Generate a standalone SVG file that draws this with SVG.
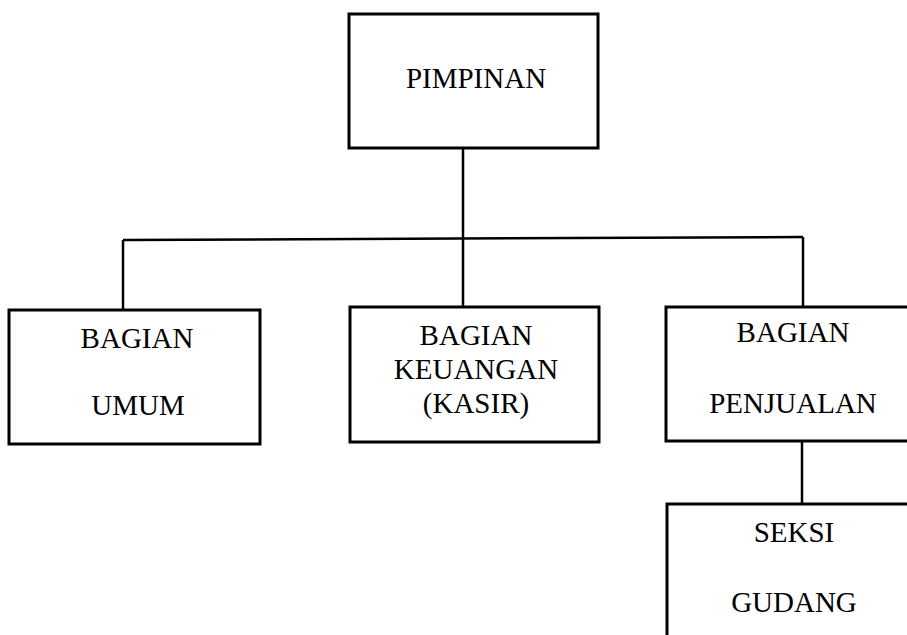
<svg xmlns="http://www.w3.org/2000/svg" width="907" height="635" viewBox="0 0 907 635">
<style>
.box{fill:#fff;stroke:#000;stroke-width:3}
.ln{stroke:#000;stroke-width:2.5;fill:none}
text{font-family:"Liberation Serif","Times New Roman",serif;font-size:29px;fill:#000;text-anchor:middle}
</style>
<rect width="907" height="635" fill="#fff"/>
<g id="connectors">
<line class="ln" x1="463" y1="147" x2="463" y2="307"/>
<line class="ln" x1="123" y1="240" x2="803" y2="237"/>
<line class="ln" x1="123" y1="240" x2="123" y2="310"/>
<line class="ln" x1="803" y1="237" x2="803" y2="307"/>
<line class="ln" x1="802" y1="441" x2="802" y2="504"/>
</g>
<g id="pimpinan">
<rect class="box" x="349" y="14" width="249" height="134"/>
<text x="476" y="88">PIMPINAN</text>
</g>
<g id="umum">
<rect class="box" x="9" y="310" width="251" height="134"/>
<text x="137" y="348">BAGIAN</text>
<text x="138" y="415">UMUM</text>
</g>
<g id="keuangan">
<rect class="box" x="350" y="307" width="249" height="135"/>
<text x="476" y="345">BAGIAN</text>
<text x="476" y="379">KEUANGAN</text>
<text x="476" y="413">(KASIR)</text>
</g>
<g id="penjualan">
<rect class="box" x="666" y="307" width="260" height="134"/>
<text x="793" y="342">BAGIAN</text>
<text x="793" y="413">PENJUALAN</text>
</g>
<g id="gudang">
<rect class="box" x="667" y="504" width="260" height="150"/>
<text x="794" y="542">SEKSI</text>
<text x="794" y="612">GUDANG</text>
</g>
</svg>
